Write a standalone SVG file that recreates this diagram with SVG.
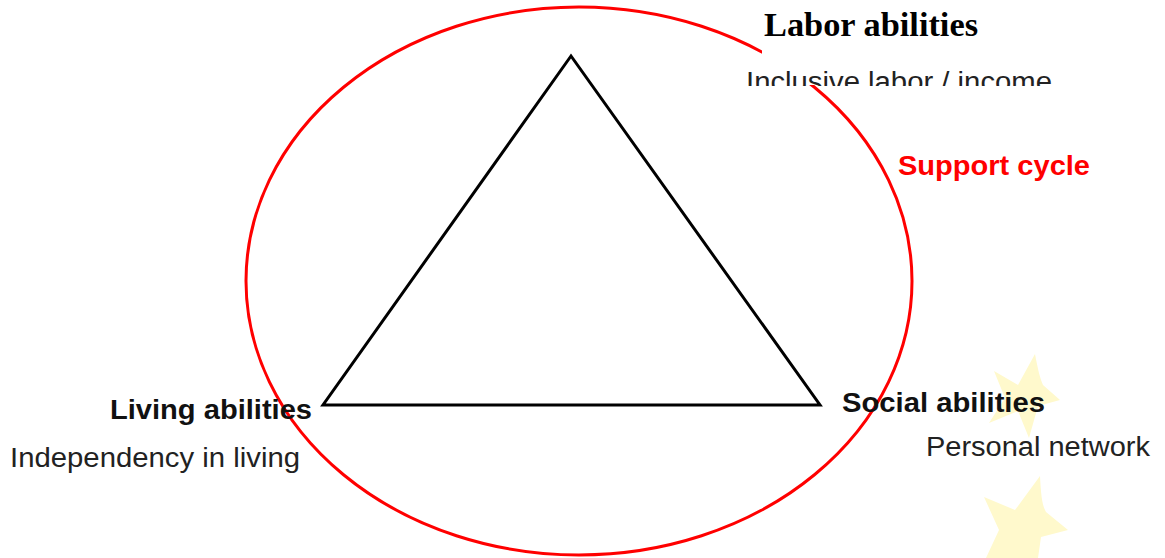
<svg xmlns="http://www.w3.org/2000/svg" width="1165" height="558" viewBox="0 0 1165 558">
<style>
.bold{font-family:"Liberation Sans",Arial,sans-serif;font-weight:bold;font-size:28px;fill:#111}
.reg{font-family:"Liberation Sans",Arial,sans-serif;font-size:27px;fill:#222}
.star{fill:#FFF9CC;stroke:none}
</style>
<defs>
<clipPath id="cutText"><rect x="700" y="60" width="400" height="26"/></clipPath>
</defs>
<rect x="0" y="0" width="1165" height="558" fill="#ffffff"/>
<g id="stars">
<path class="star" d="M1035,354 C1038,370 1040,378 1043,385 L1060,400 L1038,406 L1029,438 L1018,411 L989,423 L1005,398 L994,371 L1018,385 Z"/>
<path class="star" d="M1040,476 C1041,495 1042,505 1046,512 L1068,530 L1041,537 L1038,558 L986,558 L999,530 L984,497 L1015,510 Z"/>
</g>
<g id="support-cycle">
<ellipse cx="579" cy="281" rx="333" ry="274" fill="none" stroke="#ff0000" stroke-width="3"/>
<text x="898" y="175" font-family="Liberation Sans,Arial,sans-serif" font-weight="bold" font-size="27" fill="#ff0000" textLength="192" lengthAdjust="spacingAndGlyphs">Support cycle</text>
</g>
<g id="connectors">
<polygon points="571,56 323,405 820,405" fill="none" stroke="#000" stroke-width="3" stroke-linejoin="miter"/>
</g>
<g id="labor">
<rect x="762" y="0" width="240" height="85" fill="#ffffff"/>
<text x="764" y="36" font-family="Liberation Serif,Times New Roman,serif" font-weight="bold" font-size="34" fill="#000" textLength="214" lengthAdjust="spacingAndGlyphs">Labor abilities</text>
<text class="reg" x="746" y="91" textLength="306" lengthAdjust="spacingAndGlyphs" clip-path="url(#cutText)">Inclusive labor / income</text>
</g>
<g id="living">
<text class="bold" x="110" y="419" textLength="202" lengthAdjust="spacingAndGlyphs">Living abilities</text>
<text class="reg" x="10" y="467" textLength="290" lengthAdjust="spacingAndGlyphs">Independency in living</text>
</g>
<g id="social">
<text class="bold" x="842" y="412" textLength="203" lengthAdjust="spacingAndGlyphs">Social abilities</text>
<text class="reg" x="926" y="456" textLength="224" lengthAdjust="spacingAndGlyphs">Personal network</text>
</g>
</svg>
